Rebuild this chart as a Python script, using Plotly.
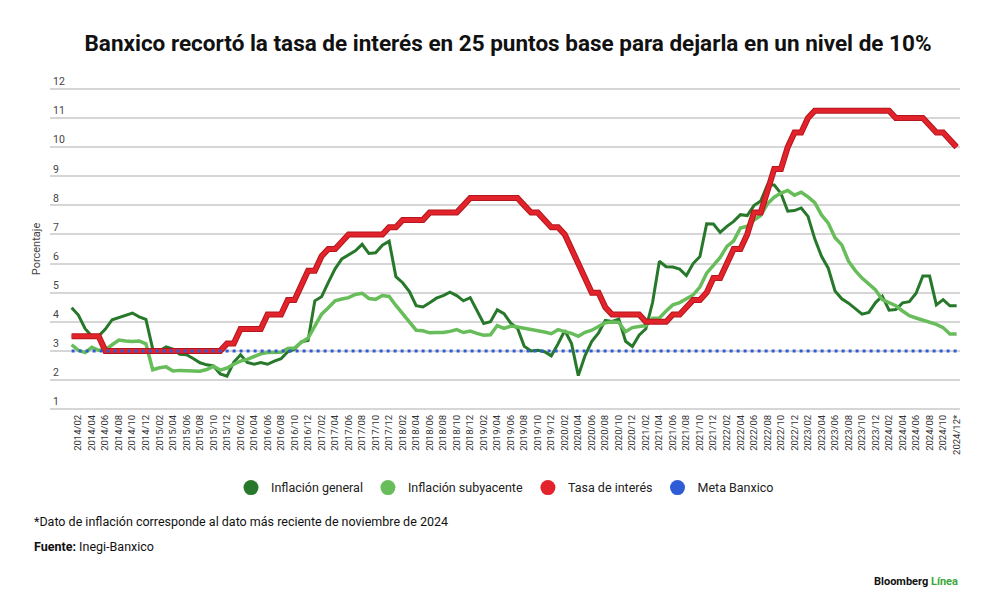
import plotly.graph_objects as go

# meses 2014/01 - 2024/12
meses = [f"{a}/{m:02d}" for a in range(2014, 2025) for m in range(1, 13)]

inflacion_general = [
    4.48, 4.23, 3.76, 3.50, 3.51, 3.75, 4.07, 4.15, 4.22, 4.30, 4.17, 4.08,
    3.07, 3.00, 3.14, 3.06, 2.88, 2.87, 2.74, 2.59, 2.52, 2.48, 2.21, 2.13,
    2.61, 2.87, 2.60, 2.54, 2.60, 2.54, 2.65, 2.73, 2.97, 3.06, 3.31, 3.36,
    4.72, 4.86, 5.35, 5.82, 6.16, 6.31, 6.44, 6.66, 6.35, 6.37, 6.63, 6.77,
    5.55, 5.34, 5.04, 4.55, 4.51, 4.65, 4.81, 4.90, 5.02, 4.90, 4.72, 4.83,
    4.37, 3.94, 4.00, 4.41, 4.28, 3.95, 3.78, 3.16, 3.00, 3.02, 2.97, 2.83,
    3.24, 3.70, 3.25, 2.15, 2.84, 3.33, 3.62, 4.05, 4.01, 4.09, 3.33, 3.15,
    3.54, 3.76, 4.67, 6.08, 5.89, 5.88, 5.81, 5.59, 6.00, 6.24, 7.37, 7.36,
    7.07, 7.28, 7.45, 7.68, 7.65, 7.99, 8.15, 8.70, 8.70, 8.41, 7.80, 7.82,
    7.91, 7.62, 6.85, 6.25, 5.84, 5.06, 4.79, 4.64, 4.45, 4.26, 4.32, 4.66,
    4.88, 4.40, 4.42, 4.65, 4.69, 4.98, 5.57, 5.57, 4.58, 4.76, 4.55, 4.55,
]

inflacion_subyacente = [
    3.21, 3.02, 2.94, 3.12, 3.02, 3.04, 3.21, 3.37, 3.34, 3.32, 3.34, 3.24,
    2.35, 2.42, 2.45, 2.31, 2.33, 2.33, 2.31, 2.30, 2.36, 2.47, 2.34, 2.41,
    2.54, 2.65, 2.71, 2.82, 2.90, 2.94, 2.96, 2.95, 3.08, 3.10, 3.29, 3.44,
    3.85, 4.26, 4.48, 4.72, 4.78, 4.83, 4.94, 4.98, 4.80, 4.77, 4.90, 4.87,
    4.56, 4.27, 4.02, 3.71, 3.69, 3.62, 3.63, 3.63, 3.67, 3.73, 3.63, 3.68,
    3.60, 3.54, 3.55, 3.87, 3.77, 3.85, 3.82, 3.78, 3.75, 3.68, 3.65, 3.59,
    3.73, 3.66, 3.60, 3.50, 3.64, 3.71, 3.85, 3.97, 3.99, 3.98, 3.66, 3.80,
    3.84, 3.87, 4.12, 4.13, 4.37, 4.58, 4.66, 4.78, 4.92, 5.19, 5.67, 5.94,
    6.21, 6.59, 6.78, 7.22, 7.28, 7.49, 7.65, 8.05, 8.28, 8.42, 8.51, 8.35,
    8.45, 8.29, 8.09, 7.67, 7.39, 6.89, 6.64, 6.08, 5.76, 5.50, 5.30, 5.09,
    4.76, 4.64, 4.55, 4.37, 4.21, 4.13, 4.05, 4.00, 3.91, 3.80, 3.58, 3.58,
]

tasa_interes = [
    3.50, 3.50, 3.50, 3.50, 3.50, 3.00, 3.00, 3.00, 3.00, 3.00, 3.00, 3.00,
    3.00, 3.00, 3.00, 3.00, 3.00, 3.00, 3.00, 3.00, 3.00, 3.00, 3.00, 3.25,
    3.25, 3.75, 3.75, 3.75, 3.75, 4.25, 4.25, 4.25, 4.75, 4.75, 5.25, 5.75,
    5.75, 6.25, 6.50, 6.50, 6.75, 7.00, 7.00, 7.00, 7.00, 7.00, 7.00, 7.25,
    7.25, 7.50, 7.50, 7.50, 7.50, 7.75, 7.75, 7.75, 7.75, 7.75, 8.00, 8.25,
    8.25, 8.25, 8.25, 8.25, 8.25, 8.25, 8.25, 8.00, 7.75, 7.75, 7.50, 7.25,
    7.25, 7.00, 6.50, 6.00, 5.50, 5.00, 5.00, 4.50, 4.25, 4.25, 4.25, 4.25,
    4.25, 4.00, 4.00, 4.00, 4.00, 4.25, 4.25, 4.50, 4.75, 4.75, 5.00, 5.50,
    5.50, 6.00, 6.50, 6.50, 7.00, 7.75, 7.75, 8.50, 9.25, 9.25, 10.00, 10.50,
    10.50, 11.00, 11.25, 11.25, 11.25, 11.25, 11.25, 11.25, 11.25, 11.25, 11.25, 11.25,
    11.25, 11.25, 11.00, 11.00, 11.00, 11.00, 11.00, 10.75, 10.50, 10.50, 10.25, 10.00,
]

meta_banxico = 3.0

# etiquetas del eje x (cada dos meses)
etiquetas = [m for m in meses if int(m[-2:]) % 2 == 0]
texto_etiquetas = etiquetas[:-1] + ["2024/12*"]

VERDE_OSCURO = "#27782a"
VERDE_CLARO = "#68bd5b"
ROJO = "#e3232b"
AZUL = "#2f5bd6"

fig = go.Figure()

fig.add_trace(go.Scatter(x=meses, y=inflacion_general, mode="lines",
                         line=dict(color=VERDE_OSCURO, width=3), showlegend=False))
fig.add_trace(go.Scatter(x=meses, y=inflacion_subyacente, mode="lines",
                         line=dict(color=VERDE_CLARO, width=3.5), showlegend=False))
# borde oscuro + linea roja
fig.add_trace(go.Scatter(x=meses, y=tasa_interes, mode="lines",
                         line=dict(color="#b3161c", width=6), showlegend=False))
fig.add_trace(go.Scatter(x=meses, y=tasa_interes, mode="lines",
                         line=dict(color=ROJO, width=4), showlegend=False))
fig.add_trace(go.Scatter(x=[meses[0], meses[-1]], y=[meta_banxico, meta_banxico], mode="lines",
                         line=dict(color=AZUL, width=3, dash="3px,4px"), showlegend=False))

# leyenda con circulos
for nombre, color in [("Inflación general", VERDE_OSCURO), ("Inflación subyacente", VERDE_CLARO),
                      ("Tasa de interés", ROJO), ("Meta Banxico", AZUL)]:
    fig.add_trace(go.Scatter(x=[None], y=[None], mode="markers", name=nombre,
                             marker=dict(color=color, size=15)))

# la pagina agrega ~8px de margen, se compensa en los margenes
fig.update_layout(
    width=1000, height=608,
    paper_bgcolor="white", plot_bgcolor="white",
    margin=dict(l=42, r=48, t=78, b=204, autoexpand=False),
    font=dict(family="Roboto", color="#333"),
    title=dict(text="<b>Banxico recortó la tasa de interés en 25 puntos base para dejarla en un nivel de 10%</b>",
               x=0.5, xanchor="center", y=1 - 35 / 608, yanchor="middle",
               font=dict(family="Roboto", size=22.5, color="#111")),
    legend=dict(orientation="h", x=0.5, xanchor="center", y=-0.233, yanchor="middle",
                font=dict(size=12.5, color="#222"), bgcolor="rgba(0,0,0,0)"),
)

fig.update_xaxes(
    type="category", categoryorder="array", categoryarray=meses,
    range=[-3.2, 131.5], automargin=False,
    tickmode="array", tickvals=etiquetas, ticktext=texto_etiquetas,
    tickangle=-90, tickfont=dict(size=9.5, color="#333"),
    showgrid=False, showline=False, ticks="", zeroline=False,
)

fig.update_yaxes(
    range=[0.9, 12.1], tickvals=list(range(1, 13)), automargin=False,
    showgrid=True, gridcolor="#d6d6d6", gridwidth=1.5,
    zeroline=False, showline=False, ticks="",
    ticklabelposition="inside top", ticklabeloverflow="allow",
    tickfont=dict(size=10.5, color="#444"),
    title=dict(text="Porcentaje", font=dict(size=11, color="#444"), standoff=10),
)

fig.add_annotation(xref="paper", yref="paper", x=-0.02, y=-0.335, xanchor="left", yanchor="middle",
                   text="*Dato de inflación corresponde al dato más reciente de noviembre de 2024",
                   showarrow=False, font=dict(size=12.5, color="#111"))
fig.add_annotation(xref="paper", yref="paper", x=-0.02, y=-0.412, xanchor="left", yanchor="middle",
                   text="<b>Fuente:</b> Inegi-Banxico",
                   showarrow=False, font=dict(size=12.5, color="#111"))
fig.add_annotation(xref="paper", yref="paper", x=1.0, y=-0.52, xanchor="right", yanchor="middle",
                   text="<b>Bloomberg</b> <b><span style='color:#3aa93a'>Línea</span></b>",
                   showarrow=False, font=dict(size=11, color="#111"))

fig.write_html("out.html")
